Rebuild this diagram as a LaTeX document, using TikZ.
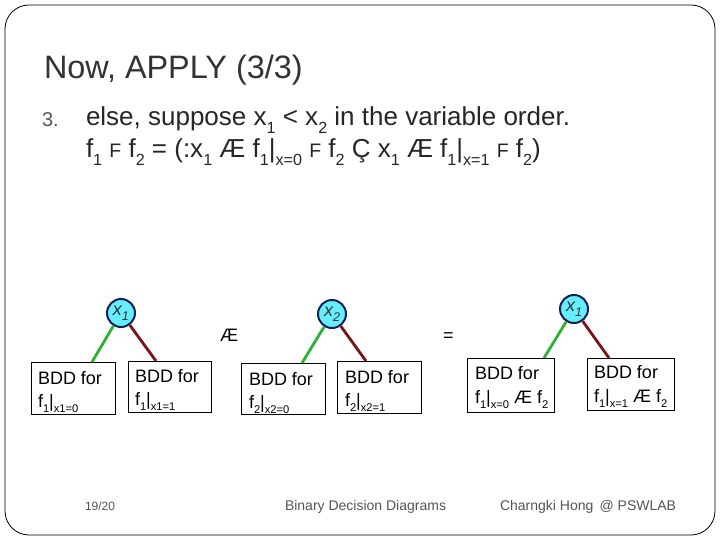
\documentclass[tikz,border=0pt]{standalone}
\usepackage{fontspec}
\setmainfont{Liberation Sans}
\usetikzlibrary{calc}
\definecolor{inkgrey}{HTML}{333333}
\definecolor{softgrey}{HTML}{555555}
\definecolor{lowgreen}{HTML}{2FB02F}
\definecolor{highred}{HTML}{7A1414}
\definecolor{varfill}{HTML}{66EEFF}
\definecolor{varline}{HTML}{12205A}
\newcommand{\lowtxt}[2][.62]{\raisebox{-.28em}{\scalebox{#1}{#2}}}
\tikzset{
  x=1pt,y=-1pt,
  plain/.style={inner sep=0pt,outer sep=0pt,anchor=base west,text=black},
  title/.style={plain,text=inkgrey,font=\fontsize{32.4}{36}\selectfont},
  bodyline/.style={plain,text=black!85,font=\fontsize{26}{30}\selectfont},
  footer/.style={plain,text=softgrey,font=\fontsize{14}{16}\selectfont},
  bddbox/.style={draw=black,line width=.5pt,fill=white,inner sep=0pt,outer sep=0pt,anchor=north west},
  boxtext/.style={plain,font=\fontsize{18}{20}\selectfont},
  varnode/.style={circle,draw=varline,line width=2pt,fill=varfill,minimum size=28pt,inner sep=0pt,font=\itshape\fontsize{18}{20}\selectfont,text=black!80},
  lowedge/.style={draw=lowgreen,line width=2.8pt},
  highedge/.style={draw=highred,line width=2.8pt}
}
\newcommand{\bddrect}[5]{\node[bddbox,minimum width=#4pt-#2pt,minimum height=#5pt-#3pt] (#1) at (#2,#3) {};}
\begin{document}
\begin{tikzpicture}
\useasboundingbox (0,0) rectangle (720,540);
\fill[white] (0,0) rectangle (720,540);
\draw[black,line width=.8pt,rounded corners=24pt] (5,5) rectangle (715,535);
\node[title] (ttl) at (44,79) {Now, APPLY (3/3)};
\node[plain,text=softgrey,font=\fontsize{20}{22}\selectfont] (num) at (42,127) {3.};
\node[bodyline] (l1) at (86,126) {else, suppose x\lowtxt{1} < x\lowtxt{2} in the variable order.};
\node[bodyline] (l2) at (86,158) {f\lowtxt{1} \scalebox{.75}{F} f\lowtxt{2} = (:x\lowtxt{1} Æ f\lowtxt{1}|\lowtxt{x=0} \scalebox{.75}{F} f\lowtxt{2} Ç x\lowtxt{1} Æ f\lowtxt{1}|\lowtxt{x=1} \scalebox{.75}{F} f\lowtxt{2})};
\bddrect{b1}{31}{362}{115}{414}
\bddrect{b2}{128}{361}{211}{412}
\bddrect{b3}{241}{363}{325}{414}
\bddrect{b4}{337}{361}{421}{413}
\bddrect{b5}{467}{358}{554}{412}
\bddrect{b6}{587}{358}{674}{410}
\node[boxtext] (t1a) at (38,384) {BDD for};
\node[boxtext] (t1b) at (38,407) {f\lowtxt{1}|\lowtxt{x1=0}};
\node[boxtext] (t2a) at (135,382) {BDD for};
\node[boxtext] (t2b) at (135,405) {f\lowtxt{1}|\lowtxt{x1=1}};
\node[boxtext] (t3a) at (249,385) {BDD for};
\node[boxtext] (t3b) at (249,408) {f\lowtxt{2}|\lowtxt{x2=0}};
\node[boxtext] (t4a) at (345,383) {BDD for};
\node[boxtext] (t4b) at (345,406) {f\lowtxt{2}|\lowtxt{x2=1}};
\node[boxtext] (t5a) at (475,379) {BDD for};
\node[boxtext] (t5b) at (475,403) {f\lowtxt{1}|\lowtxt{x=0} Æ f\lowtxt{2}};
\node[boxtext] (t6a) at (594,378) {BDD for};
\node[boxtext] (t6b) at (594,402) {f\lowtxt{1}|\lowtxt{x=1} Æ f\lowtxt{2}};
\node[varnode] (v1) at (121,313) {x\lowtxt[.7]{1}};
\node[varnode] (v2) at (332,314) {x\lowtxt[.7]{2}};
\node[varnode] (v3) at (574,309) {x\lowtxt[.7]{1}};
\coordinate (e1) at (92,362);
\coordinate (e2) at (156,361);
\coordinate (e3) at (302,363);
\coordinate (e4) at (366,361);
\coordinate (e5) at (544,358);
\coordinate (e6) at (609,358);
\draw[lowedge] (v1) -- (e1);
\draw[highedge] (v1) -- (e2);
\draw[lowedge] (v2) -- (e3);
\draw[highedge] (v2) -- (e4);
\draw[lowedge] (v3) -- (e5);
\draw[highedge] (v3) -- (e6);
\node[plain,font=\fontsize{18}{20}\selectfont] (ae) at (220,341) {Æ};
\node[plain,font=\fontsize{18}{20}\selectfont] (eq) at (443,341) {=};
\node[footer,font=\fontsize{12}{14}\selectfont] (f1) at (85,510) {19/20};
\node[footer] (f2) at (285,510) {Binary Decision Diagrams};
\node[footer] (f3) at (500,510) {Charngki Hong \,@ PSWLAB};
\end{tikzpicture}
\end{document}
